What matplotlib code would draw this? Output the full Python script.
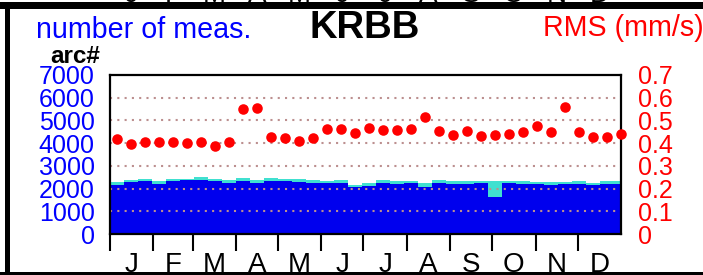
import numpy as np
import matplotlib
matplotlib.use("Agg")
import matplotlib.pyplot as plt
from matplotlib.patches import Rectangle
import matplotlib.transforms as mtransforms

plt.rcParams['font.family'] = ['Liberation Sans', 'DejaVu Sans']

# ---------------- data ----------------
months = ["J", "F", "M", "A", "M", "J", "J", "A", "S", "O", "N", "D"]
month_days = [31, 28, 31, 30, 31, 30, 31, 31, 30, 31, 30, 31]

# 10-day bins (start day of each bin)
bin_start = list(range(0, 370, 10))
# number of measurements: main (blue) part and total (blue + turquoise)
meas_main = [2157, 2290, 2334, 2188, 2334, 2364, 2378, 2320, 2259, 2334,
             2259, 2334, 2320, 2290, 2245, 2230, 2259, 2055, 2113, 2230,
             2202, 2232, 2056, 2259, 2202, 2202, 2232, 1642, 2232, 2202,
             2188, 2175, 2188, 2202, 2159, 2202, 2202]
meas_total = [2268, 2378, 2422, 2334, 2422, 2422, 2496, 2422, 2378, 2466,
              2378, 2452, 2422, 2408, 2378, 2334, 2378, 2157, 2230, 2364,
              2348, 2334, 2232, 2378, 2320, 2320, 2320, 2320, 2320, 2320,
              2290, 2275, 2290, 2334, 2261, 2320, 2320]
# RMS (mm/s), one point per 10-day bin (centre day)
rms_day = [5 + 10 * k for k in range(37)]
rms = [0.418, 0.396, 0.405, 0.404, 0.404, 0.402, 0.404, 0.386, 0.405, 0.550,
       0.555, 0.426, 0.423, 0.410, 0.421, 0.461, 0.461, 0.446, 0.467, 0.457,
       0.458, 0.462, 0.517, 0.455, 0.437, 0.454, 0.432, 0.437, 0.442, 0.448,
       0.474, 0.448, 0.561, 0.449, 0.429, 0.429, 0.440]

left_ticks = [0, 1000, 2000, 3000, 4000, 5000, 6000, 7000]
right_ticks = [0, 0.1, 0.2, 0.3, 0.4, 0.5, 0.6, 0.7]
right_labels = ["0", "0.1", "0.2", "0.3", "0.4", "0.5", "0.6", "0.7"]

# ---------------- figure ----------------
W, H = 703, 275
DPI = 100
fig = plt.figure(figsize=(W / DPI, H / DPI), dpi=DPI)
fig.patch.set_facecolor("white")

def fx(px):
    return px / W

def fy(py):
    return 1 - py / H

ax_l, ax_r, ax_t, ax_b = 110, 621, 75, 234
ax = fig.add_axes([fx(ax_l), fy(ax_b), fx(ax_r - ax_l), (ax_b - ax_t) / H])

BLUE = "#0000EE"
TURQ = "#40E0D0"
RED = "#FF0000"

main = np.array(meas_main)
extra = np.array(meas_total) - main
ax.bar(bin_start, main, width=10, align="edge", color=BLUE, linewidth=0, zorder=1)
ax.bar(bin_start, extra, bottom=main, width=10, align="edge", color=TURQ,
       linewidth=0, zorder=1)

ax.set_xlim(0, 365)
ax.set_ylim(0, 7000)

# grid lines on top of bars
for v in left_ticks[1:-1]:
    ax.axhline(v, color="#BC8F8F", linewidth=1.5, linestyle=(0, (1, 2.5)), zorder=2)

# month boundary ticks
bounds = np.concatenate([[0], np.cumsum(month_days)[:-1]])
ax.set_xticks(bounds)
ax.set_xticklabels([""] * len(bounds))
ax.tick_params(axis="x", which="major", direction="out", length=12, width=1.5,
               color="black")
mids = np.cumsum([0] + month_days[:-1]) + np.array(month_days) / 2.0
trans = mtransforms.blended_transform_factory(ax.transData, fig.transFigure)
for m, xm in zip(months, mids):
    ax.text(xm, fy(271.5), m, transform=trans, ha="center", va="baseline",
            fontsize=20, color="black", clip_on=False)
    # cut-off labels of the panel above
    ax.text(xm, fy(2.5), m, transform=trans, ha="center", va="baseline",
            fontsize=20, color="black", clip_on=False)

ax.set_yticks(left_ticks)
ax.set_yticklabels([str(v) for v in left_ticks])
ax.tick_params(axis="y", length=0, pad=11, labelsize=18, labelcolor="#0000FF")

for s in ax.spines.values():
    s.set_linewidth(1.6)
    s.set_color("black")

ax2 = ax.twinx()
ax2.set_ylim(0, 0.7)
ax2.set_yticks(right_ticks)
ax2.set_yticklabels(right_labels)
ax2.tick_params(axis="y", length=0, pad=12, labelsize=18, labelcolor=RED)
for s in ax2.spines.values():
    s.set_visible(False)
ax2.plot(rms_day, rms, linestyle="none", marker="o", markersize=7.6,
         markerfacecolor=RED, markeredgecolor=RED, markeredgewidth=0,
         clip_on=False, zorder=5)

# ---------------- texts ----------------
fig.text(fx(36), fy(37.5), "number of meas.", color="#0000FF", fontsize=20.6,
         ha="left", va="baseline")
fig.text(fx(365), fy(38.5), "KRBB", color="black", fontsize=27.5,
         fontweight="bold", ha="center", va="baseline")
fig.text(fx(543), fy(36), "RMS (mm/s)", color=RED, fontsize=20.6,
         ha="left", va="baseline")
fig.text(fx(75), fy(63), "arc#", color="black", fontsize=17.5,
         fontweight="bold", ha="center", va="baseline")

# ---------------- frame ----------------
fig.add_artist(Rectangle((0, fy(9)), 1, (9 - 2.5) / H, transform=fig.transFigure,
                         facecolor="black", edgecolor="none"))
fig.add_artist(Rectangle((fx(5), fy(273)), (10 - 5) / W, (273 - 2) / H,
                         transform=fig.transFigure, facecolor="black",
                         edgecolor="none"))
fig.add_artist(Rectangle((0, 0), 1, (275 - 271.5) / H, transform=fig.transFigure,
                         facecolor="black", edgecolor="none"))

fig.savefig("out.png", dpi=DPI)
